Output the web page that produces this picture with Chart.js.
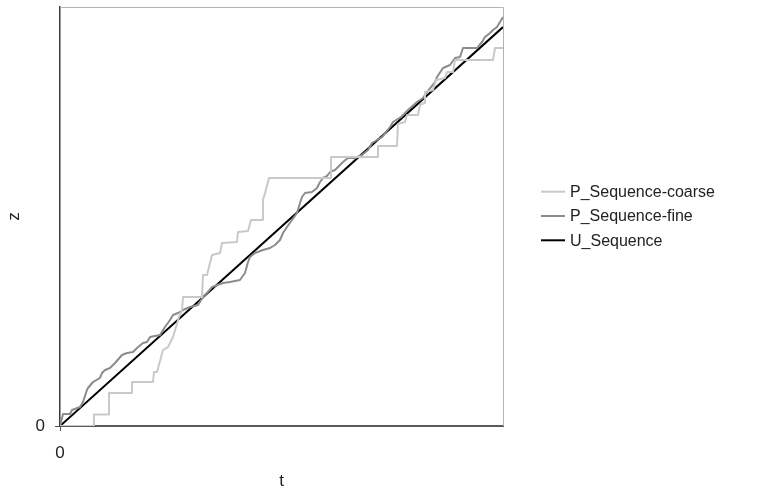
<!DOCTYPE html>
<html>
<head>
<meta charset="utf-8">
<script src="https://cdn.jsdelivr.net/npm/chart.js@4/dist/chart.umd.min.js"></script>
<style>
  html, body { margin: 0; padding: 0; background: #ffffff; }
  #wrap { width: 757px; height: 492px; position: relative; }
</style>
</head>
<body>
<div id="wrap"><canvas id="c" width="757" height="492"></canvas></div>
<script>
// ---- data ----
const seriesNames = ["P_Sequence-coarse", "P_Sequence-fine", "U_Sequence"];
const xTickLabels = ["0"];
const yTickLabels = ["0"];
const xTitle = "t";
const yTitle = "z";

const coarseT = [0, 7.45, 7.67, 10.84, 11.06, 16.03, 16.25, 20.99, 21.22, 21.90, 23.25, 24.38, 25.51, 26.19, 26.86, 27.54, 27.77, 32.05, 32.28, 33.18, 34.31, 36.12, 36.57, 39.95, 40.18, 42.44, 43.12, 45.60, 45.82, 46.28, 47.18, 60.95, 61.17, 71.56, 71.78, 76.07, 76.30, 77.88, 78.33, 80.81, 81.26, 82.17, 82.39, 84.20, 84.88, 86.91, 87.36, 88.71, 89.16, 97.74, 98.19, 100];
const coarseZ = [0, 0, 2.74, 2.74, 7.88, 7.88, 10.50, 10.50, 12.89, 12.89, 18.14, 18.85, 21.24, 23.63, 26.01, 27.68, 30.79, 30.79, 36.04, 36.04, 40.81, 41.29, 43.68, 43.91, 46.30, 46.54, 49.16, 49.16, 53.94, 55.61, 59.19, 59.19, 64.20, 64.20, 66.83, 66.83, 72.08, 72.55, 74.22, 74.22, 76.61, 77.09, 79.71, 80.19, 82.58, 83.05, 84.49, 84.49, 87.35, 87.35, 90.21, 90.21];

const fineT = [0, 0.68, 2.26, 2.71, 4.51, 5.19, 6.09, 6.32, 7.45, 9.03, 9.48, 10.16, 11.29, 12.42, 14.00, 15.12, 16.48, 17.38, 18.74, 19.64, 20.32, 21.44, 22.57, 23.70, 24.83, 25.51, 26.64, 27.77, 29.35, 31.15, 32.28, 33.18, 34.31, 36.79, 38.37, 40.63, 41.76, 42.44, 42.89, 44.02, 45.82, 47.40, 48.53, 49.66, 50.34, 51.24, 53.50, 54.18, 54.63, 55.30, 56.88, 58.01, 58.69, 59.37, 60.27, 60.95, 62.08, 63.88, 65.01, 66.59, 68.17, 69.53, 70.43, 71.56, 72.69, 74.49, 75.17, 76.98, 78.56, 80.59, 81.94, 82.84, 84.65, 85.10, 86.46, 88.04, 89.16, 90.29, 90.97, 94.13, 95.26, 95.94, 97.07, 97.74, 98.65, 99.32, 100];
const fineZ = [0, 2.86, 2.86, 3.82, 4.53, 5.73, 8.59, 9.07, 10.50, 11.46, 12.65, 13.37, 13.84, 15.04, 16.95, 17.42, 17.66, 18.62, 19.81, 20.05, 21.24, 21.48, 21.72, 23.63, 25.30, 26.49, 26.97, 27.68, 28.40, 28.88, 30.79, 31.74, 33.17, 34.13, 34.37, 34.84, 36.52, 39.14, 40.33, 41.29, 42.00, 42.48, 43.20, 44.39, 46.06, 47.49, 50.84, 53.22, 54.65, 55.61, 55.85, 56.80, 58.23, 59.19, 59.67, 60.62, 61.10, 63.01, 63.96, 63.96, 64.68, 65.87, 67.54, 68.26, 68.97, 71.36, 72.55, 73.75, 75.42, 77.33, 78.28, 79.71, 82.10, 83.29, 85.44, 86.16, 87.83, 88.07, 90.21, 90.21, 91.65, 92.84, 93.79, 94.51, 95.23, 96.42, 97.61];

const uT = [0, 100];
const uZ = [0, 95.2];

const tMin = 0, tMax = 100, zMin = 0, zMax = 100;

// ---- build ----
function pts(ts, zs) { return ts.map((t, i) => ({ x: t, y: zs[i] })); }
const seriesColors = ["#c9c9c9", "#8c8c8c", "#000000"];
const seriesData = [pts(coarseT, coarseZ), pts(fineT, fineZ), pts(uT, uZ)];

const FONT = "'Liberation Sans', Arial, Helvetica, sans-serif";
const FSIZE = 17;
const LSIZE = 16;

const frame = {
  id: 'frame',
  beforeDatasetsDraw(chart) {
    const a = chart.chartArea, ctx = chart.ctx;
    ctx.save();
    ctx.strokeStyle = '#b4b4b4';
    ctx.lineWidth = 1;
    ctx.beginPath();
    ctx.moveTo(a.left, a.top + 0.5);
    ctx.lineTo(a.right + 0.5, a.top + 0.5);
    ctx.lineTo(a.right + 0.5, a.bottom);
    ctx.stroke();
    ctx.restore();
  }
};

const sideLegend = {
  id: 'sideLegend',
  afterDraw(chart) {
    const a = chart.chartArea, ctx = chart.ctx;
    const ds = chart.data.datasets;
    const gap = 24.3;
    const cy = (a.top + a.bottom) / 2 - gap * (ds.length - 1) / 2 - 0.5;
    ctx.save();
    ctx.font = LSIZE + 'px ' + FONT;
    ctx.textBaseline = 'middle';
    ctx.textAlign = 'left';
    ds.forEach((d, i) => {
      const y = cy + i * gap;
      ctx.strokeStyle = d.borderColor;
      ctx.lineWidth = 2;
      ctx.beginPath();
      ctx.moveTo(a.right + 38, y);
      ctx.lineTo(a.right + 62, y);
      ctx.stroke();
      ctx.fillStyle = '#222';
      ctx.fillText(d.label, a.right + 67, y + 1);
    });
    ctx.restore();
  }
};

new Chart(document.getElementById('c'), {
  type: 'line',
  data: {
    datasets: seriesNames.map((n, i) => ({
      label: n,
      data: seriesData[i],
      borderColor: seriesColors[i],
      backgroundColor: seriesColors[i],
      borderWidth: 2,
      pointRadius: 0,
      tension: 0,
      fill: false,
      borderJoinStyle: 'round'
    }))
  },
  options: {
    responsive: false,
    animation: false,
    events: [],
    layout: { padding: { left: 0, top: 7, right: 254, bottom: 0 } },
    plugins: { legend: { display: false }, tooltip: { enabled: false } },
    scales: {
      x: {
        type: 'linear', min: tMin, max: tMax,
        afterBuildTicks: (s) => { s.ticks = xTickLabels.map(v => ({ value: Number(v) })); },
        afterFit: (s) => { s.height = 66; s.paddingLeft = 0; s.paddingRight = 0; },
        ticks: { color: '#222', padding: 12, font: { family: FONT, size: FSIZE }, callback: (v) => String(v), maxRotation: 0 },
        grid: { drawOnChartArea: false, drawTicks: true, tickLength: 5, color: '#555', tickWidth: 1 },
        border: { display: true, color: '#5a5a5a', width: 2 },
        title: { display: true, text: xTitle, color: '#222', font: { family: FONT, size: FSIZE }, padding: { top: 0, bottom: 0 } }
      },
      y: {
        type: 'linear', min: zMin, max: zMax,
        afterBuildTicks: (s) => { s.ticks = yTickLabels.map(v => ({ value: Number(v) })); },
        afterFit: (s) => { s.width = 60; s.paddingTop = 0; s.paddingBottom = 0; },
        ticks: { color: '#222', padding: 10, font: { family: FONT, size: FSIZE }, callback: (v) => String(v) },
        grid: { drawOnChartArea: false, drawTicks: true, tickLength: 5, color: '#555', tickWidth: 1 },
        border: { display: true, color: '#3a3a3a', width: 1.5 },
        title: { display: true, text: yTitle, color: '#222', font: { family: FONT, size: FSIZE }, padding: { top: 4, bottom: 4 } }
      }
    }
  },
  plugins: [frame, sideLegend]
});
</script>
</body>
</html>
